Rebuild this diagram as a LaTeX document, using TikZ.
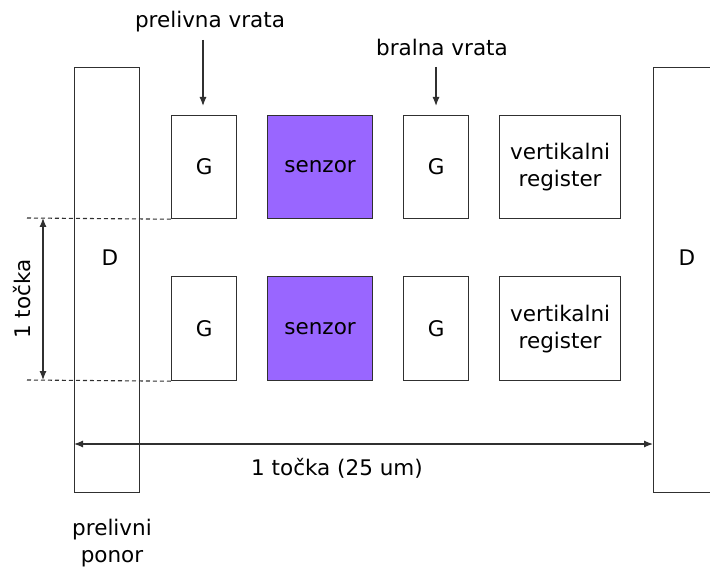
\documentclass[tikz,border=0pt]{standalone}
\usepackage{fontspec}
\setmainfont{DejaVu Sans}
\usetikzlibrary{arrows.meta}
\definecolor{senzorfill}{HTML}{9966FF}
\definecolor{edge}{HTML}{303030}
\begin{document}
\begin{tikzpicture}[x=1pt,y=-1pt,
  box/.style={draw=edge,line width=1.2pt,inner sep=0pt,anchor=north west},
  lbl/.style={font=\fontsize{21.5}{27}\selectfont,text=black,inner sep=0pt},
  arr/.style={draw=edge,line width=1.2pt,-{Latex[length=9pt,width=7pt]}},
  darr/.style={draw=edge,line width=1.2pt,{Latex[length=9pt,width=7pt]}-{Latex[length=9pt,width=7pt]}},
  guide/.style={draw=edge,line width=1.1pt,dash pattern=on 4pt off 3pt}]
\useasboundingbox (0,0) rectangle (710,572);
% drain columns
\node[box,minimum width=65pt,minimum height=425pt] (dl) at (74,67) {};
\node[box,minimum width=70pt,minimum height=425pt] (dr) at (653,67) {};
\node[lbl] at (110,258) {D};
\node[lbl] at (687,258) {D};
% upper row
\node[box,minimum width=65pt,minimum height=103pt] (g1) at (171,115) {};
\node[box,fill=senzorfill,minimum width=105pt,minimum height=103pt] (s1) at (267,115) {};
\node[box,minimum width=65pt,minimum height=103pt] (g2) at (403,115) {};
\node[box,minimum width=121pt,minimum height=103pt] (v1) at (499,115) {};
\node[lbl] at (g1.center) {G};
\node[lbl] at (s1.center) {senzor};
\node[lbl] at (g2.center) {G};
\node[lbl,align=center] at (v1.center) {vertikalni\\register};
% lower row
\node[box,minimum width=65pt,minimum height=104pt] (g3) at (171,276) {};
\node[box,fill=senzorfill,minimum width=105pt,minimum height=104pt] (s2) at (267,276) {};
\node[box,minimum width=65pt,minimum height=104pt] (g4) at (403,276) {};
\node[box,minimum width=121pt,minimum height=104pt] (v2) at (499,276) {};
\node[lbl] at (g3.center) {G};
\node[lbl] at (s2.center) {senzor};
\node[lbl] at (g4.center) {G};
\node[lbl,align=center] at (v2.center) {vertikalni\\register};
% pixel pitch guides
\coordinate (t0) at (27,218);
\coordinate (b0) at (27,380);
\draw[guide] (t0) -- (g1.south west);
\draw[guide] (b0) -- (g3.south west);
\coordinate (va) at (43,218);
\coordinate (vb) at (43,380);
\draw[darr] (va) -- (vb);
\node[lbl,rotate=90] at (22,299) {1 točka};
\coordinate (ha) at (74,444);
\coordinate (hb) at (653,444);
\draw[darr] (ha) -- (hb);
\node[lbl] at (337,468) {1 točka (25 um)};
\node[lbl,align=center] at (112,543) {prelivni\\ponor};
% gate labels
\node[lbl] (pv) at (210,22) {prelivna vrata};
\coordinate (pva) at (203,40);
\coordinate (pvb) at (203,106);
\draw[arr] (pva) -- (pvb);
\node[lbl] (bv) at (442,47) {bralna vrata};
\coordinate (bva) at (436,67);
\coordinate (bvb) at (436,106);
\draw[arr] (bva) -- (bvb);
\end{tikzpicture}
\end{document}
